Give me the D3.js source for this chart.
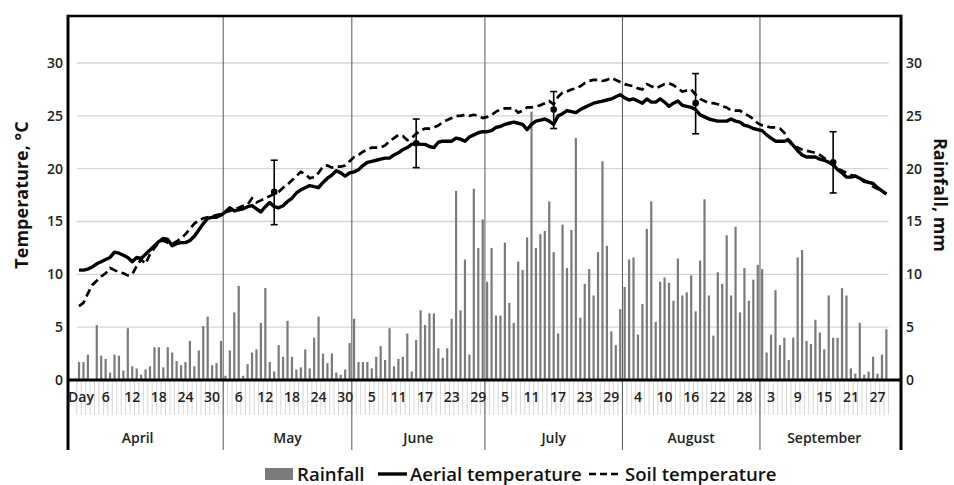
<!DOCTYPE html>
<html>
<head>
<meta charset="utf-8">
<script src="https://cdn.jsdelivr.net/npm/d3@7"></script>
<style>
  body { margin: 0; background: #fff; }
  text { font-family: "Open Sans", sans-serif; }
</style>
</head>
<body>
<div id="chart"></div>
<script>
"use strict"

/* Data: one category per day, Day..29 September */
let months = ["April", "May", "June", "July", "August", "September"];
let monthStart = [0, 33, 62, 92, 123, 154]; // first category of each month group
let dayLabels = ["Day", "6", "12", "18", "24", "30",
    "6", "12", "18", "24", "30",
    "5", "11", "17", "23", "29",
    "5", "11", "17", "23", "29",
    "4", "10", "16", "22", "28",
    "3", "9", "15", "21", "27"];

let rainfall = [
    1.7, 1.7, 2.4, 0, 5.2, 2.3, 2.0, 0.7, 2.4, 2.3, 0.9, 4.9, 1.3, 1.1, 0.5, 1.0, 1.3, 3.1, 3.1, 1.2,
    3.1, 2.6, 1.8, 1.4, 1.7, 3.7, 1.3, 2.8, 5.1, 6.0, 1.4, 1.6, 3.7, 0.4, 2.8, 6.4, 8.9, 0.4, 1.5, 2.6,
    2.9, 5.4, 8.7, 1.7, 0.8, 3.3, 2.2, 5.6, 2.2, 1.0, 1.2, 2.9, 1.1, 4.0, 6.0, 2.5, 1.6, 2.5, 0.7, 0.5,
    1.0, 3.5, 5.8, 1.7, 1.7, 1.7, 1.1, 2.2, 3.2, 1.9, 4.9, 1.3, 2.0, 2.2, 4.4, 0.8, 3.8, 6.6, 5.2, 6.3,
    6.3, 3.0, 2.1, 3.0, 5.8, 17.9, 6.6, 11.4, 2.4, 18.1, 12.5, 15.2, 9.3, 12.5, 6.1, 6.1, 13.0, 7.3, 5.4, 11.2,
    10.4, 13.5, 25.4, 12.5, 13.8, 14.1, 16.9, 12.1, 4.4, 14.7, 10.6, 14.2, 22.9, 5.9, 9.1, 10.5, 8.0, 12.1, 20.7, 12.7,
    4.6, 3.3, 6.7, 8.8, 11.4, 11.6, 4.3, 7.2, 14.3, 16.9, 5.5, 9.3, 9.7, 9.2, 7.5, 11.5, 8.0, 8.3, 9.9, 6.5,
    11.3, 17.1, 8.0, 4.2, 10.2, 9.1, 13.7, 8.0, 14.5, 6.4, 10.6, 7.5, 9.5, 10.9, 10.5, 2.6, 4.3, 8.5, 3.3, 4.0,
    1.9, 4.0, 11.6, 12.3, 3.7, 3.4, 5.7, 4.5, 2.9, 8.0, 4.0, 4.0, 8.7, 8.0, 1.1, 0.6, 5.4, 0.5, 0.8, 2.2,
    0.6, 2.4, 4.8
];

let aerialTemp = [
    10.4, 10.4, 10.5, 10.7, 11.0, 11.2, 11.4, 11.6, 12.1, 12.0, 11.8, 11.6, 11.2, 11.6, 11.5, 11.9, 12.3, 12.7, 13.1, 13.4,
    13.3, 12.7, 12.9, 13.0, 13.0, 13.2, 13.6, 14.2, 14.8, 15.3, 15.4, 15.4, 15.6, 15.9, 16.3, 16.0, 16.1, 16.2, 16.4, 16.5,
    16.2, 15.9, 16.4, 16.8, 16.4, 16.3, 16.5, 16.9, 17.2, 17.7, 18.0, 18.2, 18.4, 18.3, 18.2, 18.7, 19.1, 19.4, 19.8, 19.6,
    19.3, 19.6, 19.7, 19.9, 20.3, 20.6, 20.7, 20.8, 20.9, 21.0, 21.0, 21.3, 21.5, 21.8, 22.0, 22.3, 22.4, 22.3, 22.3, 22.1,
    22.0, 22.5, 22.6, 22.6, 22.6, 22.9, 22.8, 22.6, 23.0, 23.2, 23.4, 23.5, 23.5, 23.6, 23.9, 24.0, 24.2, 24.3, 24.4, 24.3,
    24.2, 23.7, 24.2, 24.5, 24.6, 24.7, 24.5, 24.2, 25.0, 25.2, 25.5, 25.4, 25.3, 25.6, 25.8, 26.0, 26.2, 26.3, 26.4, 26.5,
    26.6, 26.8, 27.0, 26.7, 26.5, 26.6, 26.4, 26.2, 26.6, 26.3, 26.3, 26.6, 26.3, 25.9, 26.2, 26.4, 26.0, 25.9, 25.8, 25.6,
    25.1, 24.9, 24.7, 24.6, 24.5, 24.5, 24.5, 24.7, 24.5, 24.4, 24.1, 24.0, 23.8, 23.7, 23.6, 23.2, 22.9, 22.6, 22.6, 22.6,
    22.7, 22.2, 21.7, 21.3, 21.1, 21.1, 21.1, 20.9, 20.8, 20.6, 20.4, 19.9, 19.6, 19.2, 19.2, 19.3, 19.1, 18.8, 18.7, 18.6,
    18.2, 17.9, 17.6
];

let soilTemp = [
    7.0, 7.3, 8.2, 9.0, 9.4, 9.8, 10.1, 10.6, 10.4, 10.2, 10.1, 9.9, 10.0, 10.8, 11.4, 11.0, 11.9, 12.5, 13.0, 13.2,
    13.0, 12.9, 13.1, 13.4, 13.8, 14.3, 14.8, 15.1, 15.3, 15.4, 15.5, 15.6, 15.7, 15.9, 16.0, 16.2, 16.3, 16.5, 16.6, 17.2,
    16.8, 17.0, 17.2, 17.4, 17.6, 17.8, 18.2, 18.5, 18.9, 19.3, 19.7, 19.5, 19.1, 19.2, 19.6, 20.2, 20.3, 20.1, 20.2, 20.2,
    20.3, 20.7, 21.1, 21.3, 21.6, 21.8, 22.0, 22.0, 22.0, 22.2, 22.6, 22.9, 23.2, 23.1, 22.7, 22.9, 23.3, 23.6, 23.8, 23.8,
    23.9, 24.1, 24.4, 24.6, 24.8, 25.0, 25.0, 25.1, 25.0, 25.1, 25.0, 24.8, 24.9, 25.1, 25.4, 25.6, 25.7, 25.7, 25.7, 25.3,
    25.5, 25.8, 25.8, 25.9, 26.0, 26.2, 26.4, 26.1, 26.8, 27.2, 27.3, 27.5, 27.6, 27.8, 28.1, 28.3, 28.4, 28.4, 28.3, 28.4,
    28.6, 28.4, 28.2, 28.0, 27.9, 27.8, 27.6, 27.5, 28.0, 27.8, 27.6, 27.8, 28.0, 28.1, 27.9, 27.6, 27.3, 27.4, 27.5, 27.0,
    26.6, 26.4, 26.2, 26.2, 26.1, 25.9, 25.8, 25.5, 25.5, 25.5, 25.2, 25.0, 24.7, 24.3, 24.1, 24.0, 23.9, 23.9, 23.8, 23.4,
    22.6, 22.1, 22.0, 21.8, 21.7, 21.6, 21.5, 21.3, 21.0, 20.7, 20.3, 20.0, 19.8, 19.6, 19.4, 19.3, 19.1, 18.9, 18.7, 18.3,
    18.1, 17.9, 17.6
];

/* Monthly means with error bars */
let errCat = [44, 76, 107, 139, 170];
let errMean = [17.8, 22.4, 25.6, 26.2, 20.6];
let errLow = [14.7, 20.1, 23.8, 23.3, 17.7];
let errHigh = [20.8, 24.7, 27.3, 29.0, 23.5];

let tempTicks = [0, 5, 10, 15, 20, 25, 30];

/* Drawing dimensions */
let svgWidth = 954;
let svgHeight = 485;
let frameLeft = 68, frameRight = 901, frameTop = 16, frameBottom = 450;
let plotLeft = 76.8, plotRight = 888.6;
let zeroY = 380;

let svg = d3.select("#chart")
    .append("svg")
    .attr("width", svgWidth)
    .attr("height", svgHeight);

let cats = d3.range(rainfall.length);

let x = d3.scaleBand()
    .domain(cats)
    .range([plotLeft, plotRight])
    .padding(0);
let bw = x.bandwidth();
let cx = function (i) { return x(i) + bw / 2; };

let y = d3.scaleLinear()
    .domain([0, 34.45])
    .range([zeroY, frameTop]);

/* Horizontal gridlines */
svg.append("g")
    .selectAll("line")
    .data(tempTicks.slice(1))
    .join("line")
    .attr("x1", plotLeft)
    .attr("x2", plotRight)
    .attr("y1", function (d) { return y(d); })
    .attr("y2", function (d) { return y(d); })
    .attr("stroke", "#d4d4d4")
    .attr("stroke-width", 1.3);

/* Minor category ticks below the zero line */
svg.append("g")
    .selectAll("line")
    .data(d3.range(rainfall.length + 1))
    .join("line")
    .attr("x1", function (i) { return plotLeft + i * bw; })
    .attr("x2", function (i) { return plotLeft + i * bw; })
    .attr("y1", zeroY + 2)
    .attr("y2", 415)
    .attr("stroke", "#d6d6d6")
    .attr("stroke-width", 1);

/* Month separators */
svg.append("g")
    .selectAll("line")
    .data(monthStart.slice(1))
    .join("line")
    .attr("x1", function (d) { return x(d); })
    .attr("x2", function (d) { return x(d); })
    .attr("y1", frameTop)
    .attr("y2", frameBottom)
    .attr("stroke", "#555")
    .attr("stroke-width", 1);

/* Rainfall bars */
svg.append("g")
    .selectAll("rect")
    .data(rainfall)
    .join("rect")
    .attr("x", function (d, i) { return cx(i) - 1.1; })
    .attr("width", 2.2)
    .attr("y", function (d) { return y(d); })
    .attr("height", function (d) { return zeroY - y(d); })
    .attr("fill", "#7a7a7a");

/* Temperature lines */
let line = d3.line()
    .x(function (d, i) { return cx(i); })
    .y(function (d) { return y(d); });

svg.append("path")
    .datum(soilTemp)
    .attr("d", line)
    .attr("fill", "none")
    .attr("stroke", "#000")
    .attr("stroke-width", 2.7)
    .attr("stroke-dasharray", "8,4.5");

svg.append("path")
    .datum(aerialTemp)
    .attr("d", line)
    .attr("fill", "none")
    .attr("stroke", "#000")
    .attr("stroke-width", 3.4)
    .attr("stroke-linejoin", "round");

/* Error bars */
let eb = svg.append("g").selectAll("g")
    .data(errCat)
    .join("g");
eb.append("line")
    .attr("x1", function (d) { return cx(d); })
    .attr("x2", function (d) { return cx(d); })
    .attr("y1", function (d, i) { return y(errLow[i]); })
    .attr("y2", function (d, i) { return y(errHigh[i]); })
    .attr("stroke", "#000")
    .attr("stroke-width", 1.6);
[errLow, errHigh].forEach(function (arr) {
    eb.append("line")
        .attr("x1", function (d) { return cx(d) - 3.5; })
        .attr("x2", function (d) { return cx(d) + 3.5; })
        .attr("y1", function (d, i) { return y(arr[i]); })
        .attr("y2", function (d, i) { return y(arr[i]); })
        .attr("stroke", "#000")
        .attr("stroke-width", 1.6);
});
eb.append("circle")
    .attr("cx", function (d) { return cx(d); })
    .attr("cy", function (d, i) { return y(errMean[i]); })
    .attr("r", 3.3)
    .attr("fill", "#000");

/* Frame */
svg.append("line").attr("x1", frameLeft).attr("x2", frameRight)
    .attr("y1", frameTop).attr("y2", frameTop)
    .attr("stroke", "#000").attr("stroke-width", 2.5);
svg.append("line").attr("x1", frameLeft).attr("x2", frameRight)
    .attr("y1", zeroY).attr("y2", zeroY)
    .attr("stroke", "#000").attr("stroke-width", 3);
[frameLeft, frameRight].forEach(function (fx) {
    svg.append("line").attr("x1", fx).attr("x2", fx)
        .attr("y1", frameTop - 1.2).attr("y2", frameBottom)
        .attr("stroke", "#000").attr("stroke-width", 3);
});

/* Y axes (temperature left, rainfall right, same scale) */
let yLeft = svg.append("g")
    .attr("transform", "translate(" + frameLeft + ",0)")
    .call(d3.axisLeft(y).tickValues(tempTicks).tickSize(0).tickPadding(5));
let yRight = svg.append("g")
    .attr("transform", "translate(" + frameRight + ",0)")
    .call(d3.axisRight(y).tickValues(tempTicks).tickSize(0).tickPadding(5));
[yLeft, yRight].forEach(function (g) {
    g.select(".domain").remove();
    g.selectAll("text")
        .style("font-family", "'Open Sans', sans-serif")
        .style("font-size", "14px")
        .style("font-weight", "600")
        .attr("fill", "#222");
});

/* X axis: day labels every 6 categories */
let xAxis = svg.append("g")
    .attr("transform", "translate(0," + zeroY + ")")
    .call(d3.axisBottom(x)
        .tickValues(d3.range(0, rainfall.length, 6))
        .tickFormat(function (d, i) { return dayLabels[i]; })
        .tickSize(0)
        .tickPadding(12));
xAxis.select(".domain").remove();
xAxis.selectAll("text")
    .style("font-family", "'Open Sans', sans-serif")
    .style("font-size", "14px")
    .style("font-weight", "600")
    .attr("fill", "#222");
xAxis.selectAll("text")
    .filter(function (d) { return d === 0; })
    .attr("text-anchor", "start")
    .attr("x", frameLeft - x(0) - bw / 2);

/* Month labels */
let monthEnd = monthStart.slice(1).concat([rainfall.length]);
svg.append("g")
    .selectAll("text")
    .data(months)
    .join("text")
    .attr("x", function (d, i) {
        let a = i === 0 ? frameLeft : x(monthStart[i]);
        let b = i === months.length - 1 ? plotRight : x(monthEnd[i]);
        return (a + b) / 2 - (i === 0 ? 8 : 0);
    })
    .attr("y", 443)
    .attr("text-anchor", "middle")
    .style("font-size", "14px")
    .style("font-weight", "600")
    .attr("fill", "#222")
    .text(function (d) { return d; });

/* Axis titles */
svg.append("text")
    .attr("transform", "translate(28,195) rotate(-90)")
    .attr("text-anchor", "middle")
    .style("font-size", "18px")
    .style("font-weight", "700")
    .attr("fill", "#111")
    .text("Temperature, °C");

svg.append("text")
    .attr("transform", "translate(934,195) rotate(90)")
    .attr("text-anchor", "middle")
    .style("font-size", "18px")
    .style("font-weight", "700")
    .attr("fill", "#111")
    .text("Rainfall, mm");

/* Legend */
let legend = svg.append("g").attr("transform", "translate(0,474)");
legend.append("rect")
    .attr("x", 265).attr("y", -6).attr("width", 28).attr("height", 12)
    .attr("fill", "#7a7a7a");
legend.append("text").attr("x", 297).attr("y", 6.5)
    .style("font-size", "18.6px").style("font-weight", "600").attr("fill", "#111")
    .text("Rainfall");
legend.append("line")
    .attr("x1", 378).attr("x2", 407).attr("y1", 0).attr("y2", 0)
    .attr("stroke", "#000").attr("stroke-width", 3.4);
legend.append("text").attr("x", 410).attr("y", 6.5)
    .style("font-size", "18.6px").style("font-weight", "600").attr("fill", "#111")
    .text("Aerial temperature");
legend.append("line")
    .attr("x1", 589).attr("x2", 622).attr("y1", 0).attr("y2", 0)
    .attr("stroke", "#000").attr("stroke-width", 2.7).attr("stroke-dasharray", "7,4");
legend.append("text").attr("x", 625).attr("y", 6.5)
    .style("font-size", "18.6px").style("font-weight", "600").attr("fill", "#111")
    .text("Soil temperature");
</script>
</body>
</html>
